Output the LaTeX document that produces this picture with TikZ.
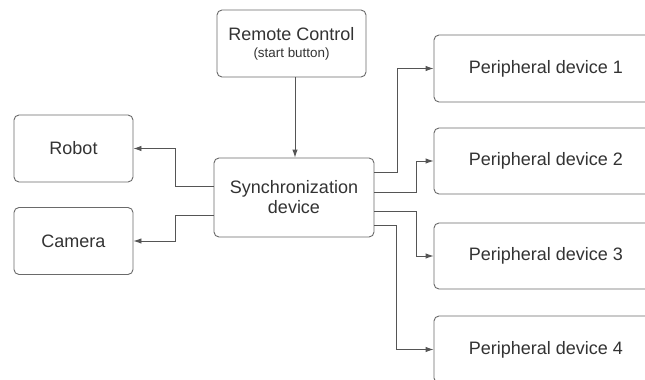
\documentclass[tikz,border=0pt]{standalone}
\usepackage{fontspec}
\setmainfont{Liberation Sans}
\usetikzlibrary{arrows.meta}
\definecolor{boxline}{HTML}{6A6A6A}
\definecolor{txt}{HTML}{333333}
\definecolor{wire}{HTML}{555555}
\begin{document}
\begin{tikzpicture}[x=1pt,y=-1pt,
  box/.style={draw=boxline,line width=0.9pt,rounded corners=5pt,fill=white,
    inner sep=0pt,align=center,text=txt,font=\fontsize{18}{20}\selectfont},
  arr/.style={draw=wire,line width=0.9pt,-{Latex[length=8pt,width=5.5pt]}}]
\useasboundingbox (0,0) rectangle (645,380);
\clip (0,0) rectangle (645,380);
\fill[white] (0,0) rectangle (645,380);
\node[box,minimum width=149pt,minimum height=67pt] (remote) at (291.5,43.5)
  {Remote Control\\[-3pt]{\fontsize{13.4}{15}\selectfont (start button)}};
\node[box,minimum width=119pt,minimum height=67pt] (robot) at (73.5,148.5) {Robot};
\node[box,minimum width=119pt,minimum height=67pt] (camera) at (73.5,241) {Camera};
\node[box,minimum width=160pt,minimum height=79pt] (sync) at (294,197.5) {Synchronization\\device};
\node[box,minimum width=224pt,minimum height=67pt] (p1) at (546,68.5) {Peripheral device 1};
\node[box,minimum width=224pt,minimum height=66pt] (p2) at (546,161) {Peripheral device 2};
\node[box,minimum width=224pt,minimum height=66pt] (p3) at (546,256) {Peripheral device 3};
\node[box,minimum width=224pt,minimum height=67pt] (p4) at (546,349.5) {Peripheral device 4};
\draw[arr] ([xshift=3.5pt]remote.south) -- ([xshift=3.5pt]remote.south |- sync.north);
\draw[arr] ([yshift=11.5pt]sync.west) -- ++(-38,0) |- (robot.east);
\draw[arr] ([yshift=-17.5pt]sync.west) -- ++(-38,0) |- (camera.east);
\draw[arr] ([yshift=25.5pt]sync.east) -- ++(23,0) |- (p1.west);
\draw[arr] ([yshift=5.5pt]sync.east) -- ++(42,0) |- (p2.west);
\draw[arr] ([yshift=-13.5pt]sync.east) -- ++(42,0) |- (p3.west);
\draw[arr] ([yshift=-27.5pt]sync.east) -- ++(22,0) |- (p4.west);
\end{tikzpicture}
\end{document}
